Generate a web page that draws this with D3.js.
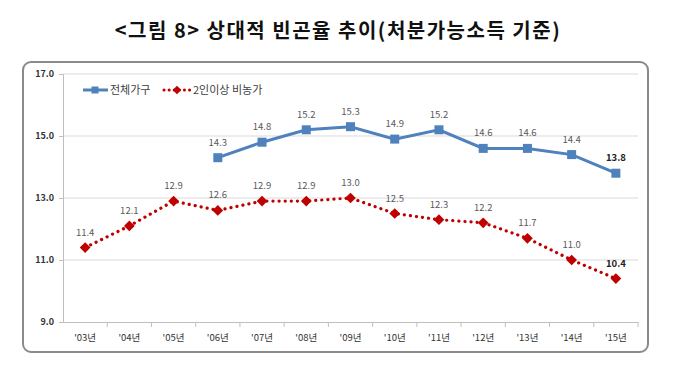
<!DOCTYPE html>
<html><head><meta charset="utf-8">
<script src="https://cdn.jsdelivr.net/npm/d3@7"></script>
<style>
body{margin:0;background:#fff;}
svg{display:block;}
text{font-family:"Noto Sans CJK KR","Noto Sans",sans-serif;}
</style></head>
<body>
<script>
const categories = ["'03년","'04년","'05년","'06년","'07년","'08년","'09년","'10년","'11년","'12년","'13년","'14년","'15년"];
const seriesNames = ["전체가구","2인이상 비농가"];
const totalHouseholds = [null,null,null,14.3,14.8,15.2,15.3,14.9,15.2,14.6,14.6,14.4,13.8];
const nonFarm2Plus = [11.4,12.1,12.9,12.6,12.9,12.9,13.0,12.5,12.3,12.2,11.7,11.0,10.4];
const yTicks = [9,11,13,15,17];

const W=683,H=380;
const svg=d3.select("body").append("svg").attr("width",W).attr("height",H);

svg.append("text").attr("x",338).attr("y",38).attr("text-anchor","middle")
  .attr("font-size",20).attr("font-weight","bold").attr("fill","#111").attr("letter-spacing",1.5)
  .text("<그림 8> 상대적 빈곤율 추이(처분가능소득 기준)");

// frame
svg.append("rect").attr("x",23).attr("y",62).attr("width",625).attr("height",290)
  .attr("rx",8).attr("fill","#fff").attr("stroke","#8a8a8a").attr("stroke-width",2);

const x=d3.scaleBand().domain(categories).range([63,638]);
const y=d3.scaleLinear().domain([9,17]).range([322,74]);

// grid
svg.append("g").selectAll("line").data(yTicks.filter(d=>d>9)).join("line")
  .attr("x1",63).attr("x2",638).attr("y1",d=>y(d)).attr("y2",d=>y(d))
  .attr("stroke","#d9d9d9").attr("stroke-width",1);

// y axis
const ya=svg.append("g").attr("transform","translate(63,0)")
  .call(d3.axisLeft(y).tickValues(yTicks).tickFormat(d3.format(".1f")).tickSize(4));
ya.select(".domain").attr("stroke","#bfbfbf");
ya.selectAll(".tick line").attr("stroke","#bfbfbf");
ya.selectAll("text").attr("font-size",9).attr("font-weight","bold").attr("fill","#333").attr("x",-9);

// x axis
const xa=svg.append("g").attr("transform","translate(0,322)")
  .call(d3.axisBottom(x).tickSize(0).tickPadding(12));
xa.select(".domain").attr("stroke","#bfbfbf");
xa.selectAll("text").attr("font-size",9.5).attr("fill","#333");
svg.append("g").selectAll("line").data(categories).join("line")
  .attr("x1",(d,i)=>x.range()[0]+(i+1)*x.step()).attr("x2",(d,i)=>x.range()[0]+(i+1)*x.step())
  .attr("y1",322).attr("y2",327).attr("stroke","#bfbfbf");

const cx=d=>x(d)+x.bandwidth()/2;

// blue series
const blueData=categories.map((c,i)=>({c,v:totalHouseholds[i],i})).filter(d=>d.v!=null);
const line=d3.line().x(d=>cx(d.c)).y(d=>y(d.v));
svg.append("path").datum(blueData).attr("d",line).attr("fill","none")
  .attr("stroke","#4F81BD").attr("stroke-width",3);
svg.append("g").selectAll("rect").data(blueData).join("rect")
  .attr("x",d=>cx(d.c)-4.5).attr("y",d=>y(d.v)-4.5).attr("width",9).attr("height",9)
  .attr("fill","#4F81BD");
svg.append("g").selectAll("text").data(blueData).join("text")
  .attr("x",d=>cx(d.c)).attr("y",d=>y(d.v)-12).attr("text-anchor","middle")
  .attr("font-size",9.5).attr("fill",d=>d.i===12?"#222":"#595959")
  .attr("font-weight",d=>d.i===12?"bold":"normal")
  .text(d=>d3.format(".1f")(d.v));

// red series
const redData=categories.map((c,i)=>({c,v:nonFarm2Plus[i],i}));
svg.append("path").datum(redData).attr("d",line).attr("fill","none")
  .attr("stroke","#C00000").attr("stroke-width",3.2).attr("stroke-linecap","round")
  .attr("stroke-dasharray","0.1,6");
svg.append("g").selectAll("rect").data(redData).join("rect")
  .attr("x",-3.8).attr("y",-3.8).attr("width",7.6).attr("height",7.6)
  .attr("transform",d=>`translate(${cx(d.c)},${y(d.v)}) rotate(45)`)
  .attr("fill","#C00000");
svg.append("g").selectAll("text").data(redData).join("text")
  .attr("x",d=>cx(d.c)).attr("y",d=>y(d.v)-12).attr("text-anchor","middle")
  .attr("font-size",9.5).attr("fill",d=>d.i===12?"#222":"#595959")
  .attr("font-weight",d=>d.i===12?"bold":"normal")
  .text(d=>d3.format(".1f")(d.v));

// legend
const lg=svg.append("g");
lg.append("line").attr("x1",83).attr("x2",108).attr("y1",90).attr("y2",90)
  .attr("stroke","#4F81BD").attr("stroke-width",3);
lg.append("rect").attr("x",91.5).attr("y",86.5).attr("width",7).attr("height",7).attr("fill","#4F81BD");
lg.append("text").attr("x",110).attr("y",94).attr("font-size",11).attr("fill","#404040").text(seriesNames[0]);
lg.append("line").attr("x1",164).attr("x2",190).attr("y1",90).attr("y2",90)
  .attr("stroke","#C00000").attr("stroke-width",3).attr("stroke-linecap","round").attr("stroke-dasharray","0.1,5");
lg.append("rect").attr("x",-3).attr("y",-3).attr("width",6).attr("height",6)
  .attr("transform","translate(177,90) rotate(45)").attr("fill","#C00000");
lg.append("text").attr("x",193).attr("y",94).attr("font-size",11).attr("fill","#404040").text(seriesNames[1]);
</script>
</body></html>
